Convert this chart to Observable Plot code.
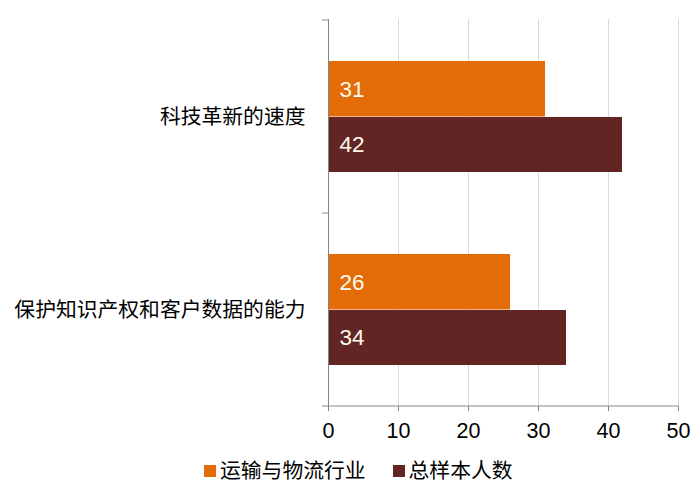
<!DOCTYPE html>
<html>
<head>
<meta charset="utf-8">
<script src="https://cdn.jsdelivr.net/npm/d3@7"></script>
<script src="https://cdn.jsdelivr.net/npm/@observablehq/plot@0.6"></script>
<style>
  body { margin: 0; background: #fff; font-family: "Liberation Sans", Arial, "Noto Sans CJK SC", sans-serif; }
  #legend { display: flex; align-items: center; margin-left: 204px; padding-top: 14px; font-size: 20.8px; line-height: 24px; color: #000; }
  .sw { width: 12px; height: 12px; margin-right: 4px; }
  .item { display: flex; align-items: center; margin-right: 27px; }
</style>
</head>
<body>
<div id="chart"></div>
<div id="legend"></div>
<script>
const categories = ["科技革新的速度", "保护知识产权和客户数据的能力"];
const seriesNames = ["运输与物流行业", "总样本人数"];
const transportValues = [31, 26];
const totalValues = [42, 34];
const xTicks = [0, 10, 20, 30, 40, 50];
const colors = ["#E36C09", "#632523"];

const data = [];
categories.forEach((c, i) => {
  data.push({category: c, series: seriesNames[0], value: transportValues[i]});
  data.push({category: c, series: seriesNames[1], value: totalValues[i]});
});
const s0 = data.filter(d => d.series === seriesNames[0]);
const s1 = data.filter(d => d.series === seriesNames[1]);

const fontFam = '"Liberation Sans", Arial, "Noto Sans CJK SC", sans-serif';

const chart = Plot.plot({
  width: 697,
  height: 445,
  marginTop: 19,
  marginBottom: 39,
  marginLeft: 328,
  marginRight: 19,
  style: {fontFamily: fontFam, fontSize: "20.8px", color: "#000", background: "#fff"},
  x: {domain: [0, 50], ticks: xTicks, label: null},
  y: {domain: categories, padding: 0, label: null},
  marks: [
    Plot.gridX(xTicks.filter(t => t > 0), {stroke: "#d9d9d9", strokeOpacity: 1}),
    Plot.barX(s0, {x: "value", y: "category", fill: colors[0], insetTop: 41, insetBottom: 96.5}),
    Plot.barX(s1, {x: "value", y: "category", fill: colors[1], insetTop: 97, insetBottom: 41}),
    Plot.text(s0, {x: 0, y: "category", text: d => String(d.value), fill: "#fffaf0", textAnchor: "start", dx: 11, dy: -27.5, fontSize: 22.5}),
    Plot.text(s1, {x: 0, y: "category", text: d => String(d.value), fill: "#fffaf0", textAnchor: "start", dx: 11, dy: 28, fontSize: 22.5}),
    Plot.ruleX([0], {stroke: "#868686"}),
    Plot.axisX({ticks: xTicks, tickSize: 5, tickPadding: 11, stroke: "#868686", fill: "#000", label: null, fontSize: 21.5}),
    Plot.axisY({tickSize: 0, tickPadding: 23, fill: "#000", label: null, fontSize: 20.8}),
    // category boundary ticks and bottom axis line, derived from scales
    (index, scales, values, dims) => {
      const svgNS = "http://www.w3.org/2000/svg";
      const g = document.createElementNS(svgNS, "g");
      const x0 = scales.x(0);
      const x1 = scales.x(50);
      const bw = scales.y.bandwidth ? scales.y.bandwidth() : 0;
      const ys = categories.map(c => scales.y(c));
      const bounds = [...ys, ys[ys.length - 1] + bw];
      bounds.forEach((yy, i) => {
        const l = document.createElementNS(svgNS, "line");
        l.setAttribute("x1", x0 - 6);
        l.setAttribute("x2", i === bounds.length - 1 ? x1 : x0);
        l.setAttribute("y1", yy);
        l.setAttribute("y2", yy);
        l.setAttribute("stroke", "#868686");
        g.appendChild(l);
      });
      return g;
    }
  ]
});
document.getElementById("chart").appendChild(chart);

const legend = document.getElementById("legend");
seriesNames.forEach((s, i) => {
  const item = document.createElement("div");
  item.className = "item";
  const sw = document.createElement("div");
  sw.className = "sw";
  sw.style.background = colors[i];
  const t = document.createElement("span");
  t.textContent = s;
  item.appendChild(sw);
  item.appendChild(t);
  legend.appendChild(item);
});
</script>
</body>
</html>
